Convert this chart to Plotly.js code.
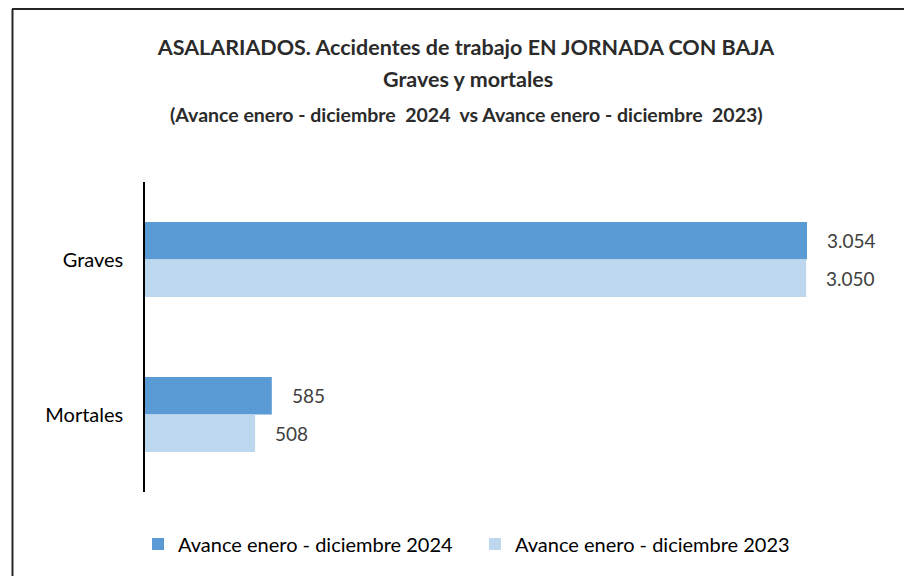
<!DOCTYPE html>
<html>
<head>
<meta charset="utf-8">
<script src="https://cdn.plot.ly/plotly-3.0.1.min.js"></script>
<style>html,body{margin:0;padding:0;background:#fff;}#chart{width:904px;height:576px;}</style>
</head>
<body>
<div id="chart"></div>
<script>
const categories = ["Graves", "Mortales"];
const seriesNames = ["Avance enero - diciembre 2024", "Avance enero - diciembre 2023"];
const values2024 = [3054, 585];
const values2023 = [3050, 508];
const titleLines = [
  "ASALARIADOS. Accidentes de trabajo EN JORNADA CON BAJA",
  "Graves y mortales",
  "(Avance enero - diciembre  2024  vs Avance enero - diciembre  2023)"
];

const FONT = "Lato, 'Noto Sans', sans-serif";
const colors = ["#5B9BD5", "#BDD7EE"];
const fmt = v => v.toLocaleString('de-DE');
const py = p => (492 - p) / 310;  // pixel row -> paper y

const traces = [values2024, values2023].map((vals, i) => ({
  type: 'bar', orientation: 'h',
  name: seriesNames[i],
  y: categories, x: vals,
  marker: {color: colors[i]},
  hoverinfo: 'x'
}));

const annotations = [];
[values2024, values2023].forEach((vals, i) => {
  vals.forEach((v, j) => {
    annotations.push({
      x: v, y: categories[j], xref: 'x', yref: 'y',
      text: fmt(v), showarrow: false, xanchor: 'left',
      xshift: 18, yshift: i === 0 ? 19 : -19,
      font: {family: FONT, size: 19, color: '#404040'}
    });
  });
});
annotations.push({
  text: '<b>' + titleLines[1] + '</b>', xref: 'paper', yref: 'paper',
  x: (468-145)/737, y: py(79), showarrow: false, yanchor: 'middle', xanchor: 'center',
  font: {family: FONT, size: 21.5, color: '#2b2b2b'}
});
annotations.push({
  text: '<b>' + titleLines[2] + '</b>', xref: 'paper', yref: 'paper',
  x: (466-145)/737, y: py(114), showarrow: false, yanchor: 'middle', xanchor: 'center',
  font: {family: FONT, size: 19.5, color: '#2b2b2b'}
});

const layout = {
  width: 904, height: 576,
  margin: {l: 145, r: 22, t: 182, b: 84},
  paper_bgcolor: '#fff', plot_bgcolor: '#fff',
  title: {
    text: '<b>' + titleLines[0] + '</b>',
    x: 466/904, xanchor: 'center', y: 1 - 47/576, yanchor: 'middle', yref: 'container',
    font: {family: FONT, size: 21.5, color: '#2b2b2b'}
  },
  barmode: 'group', bargap: 0.515, bargroupgap: 0,
  xaxis: {range: [0, 3400], showgrid: false, zeroline: false, showticklabels: false, showline: false, fixedrange: true},
  yaxis: {
    autorange: 'reversed', showline: true, linecolor: '#000', linewidth: 1.5,
    showgrid: false, ticks: '', ticklabelstandoff: 16,
    tickfont: {family: FONT, size: 20, color: '#000'}
  },
  showlegend: true,
  legend: {
    orientation: 'h', x: (138-145)/737, xanchor: 'left', y: py(544), yanchor: 'middle',
    font: {family: FONT, size: 20, color: '#000'}, itemwidth: 30, tracegroupgap: 0,
    entrywidth: 292
  },
  annotations: annotations,
  shapes: [
    {type: 'line', xref: 'paper', yref: 'paper', x0: (12-145)/737, x1: 1.05, y0: py(9), y1: py(9), line: {color: '#262626', width: 2}},
    {type: 'line', xref: 'paper', yref: 'paper', x0: (12.5-145)/737, x1: (12.5-145)/737, y0: py(9), y1: -0.35, line: {color: '#262626', width: 2}}
  ]
};

Plotly.newPlot('chart', traces, layout, {displayModeBar: false, responsive: false});
</script>
</body>
</html>
